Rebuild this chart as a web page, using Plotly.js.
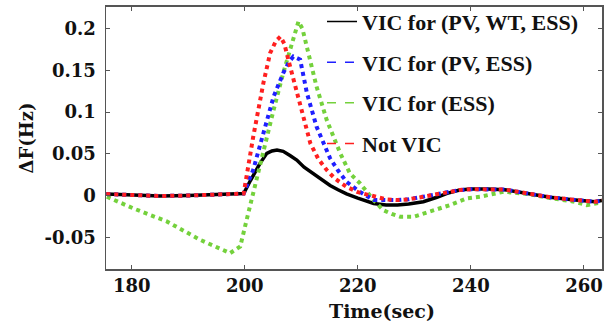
<!DOCTYPE html>
<html>
<head>
<meta charset="utf-8">
<script src="https://cdn.plot.ly/plotly-3.0.1.min.js"></script>
<style>html,body{margin:0;padding:0;background:#fff;}#chart{width:616px;height:327px;}</style>
</head>
<body>
<div id="chart"></div>
<script>
// ---- data ----
const seriesNames = ["VIC for (PV, WT, ESS)", "VIC for (PV, ESS)", "VIC for (ESS)", "Not VIC"];

const tBlack = [175.5,180,185,190,195,199.8,201,202.7,203.9,204.8,205.7,206.8,208,209.2,210.5,212.1,213.5,215.1,216.5,218,220,222.8,225,227,229,231.6,234,235.8,238,240,243,246,250,254,258,262,263.2];
const fBlack = [0.0018,0.001,-0.0005,0,0.0012,0.0024,0.018,0.0386,0.0506,0.0535,0.0546,0.0530,0.048,0.0426,0.034,0.0266,0.019,0.0120,0.007,0.0020,-0.003,-0.0094,-0.0112,-0.0114,-0.0100,-0.0074,-0.002,0.0026,0.0066,0.0080,0.0078,0.0070,0.0026,-0.0020,-0.0050,-0.0074,-0.006];

const tBlue = [175.5,180,185,190,195,199.8,201.5,203.3,205.1,206.8,207.8,208.6,209.3,209.8,211,212.7,215.1,216.5,218,220,222.8,225,226.9,229,231.6,234,235.8,238,240,243,246,250,254,258,262,263.2];
const fBlue = [0.0018,0.001,-0.0005,0,0.0012,0.0024,0.031,0.0747,0.1186,0.1467,0.160,0.1666,0.165,0.163,0.1227,0.0826,0.0446,0.030,0.0166,0.006,-0.0054,-0.0056,-0.0054,-0.0045,-0.0014,0.002,0.0046,0.0066,0.0076,0.0078,0.0072,0.0026,-0.0020,-0.0050,-0.0074,-0.006];

const tGreen = [175.6,180.3,186.2,192.1,197.4,199.2,200.3,201.5,203.3,205.1,206.8,208.3,209.5,210.2,211,212.7,214.5,216.9,218.6,220.4,222.8,224.5,226,227.5,229.9,232.8,236.3,239.3,241.6,245.8,250,254,258,260.5,263.2];
const fGreen = [-0.0014,-0.0154,-0.031,-0.053,-0.069,-0.061,-0.030,0.004,0.0546,0.1026,0.1467,0.1827,0.2086,0.200,0.1786,0.1306,0.0906,0.0506,0.0266,0.0146,-0.0054,-0.0174,-0.022,-0.0254,-0.0254,-0.0194,-0.0114,-0.0034,-0.0014,0.0046,0.0020,-0.0030,-0.0070,-0.0114,-0.008];

const tRed = [175.5,180,185,190,195,199.8,201.5,203.3,204.5,205.5,206.3,207,207.7,209.2,210.5,211.6,213,214.5,216,218,220,222.8,225,226.9,229,231.6,234,235.8,238,240,243,246,250,254,258,262,263.2];
const fRed = [0.0018,0.001,-0.0005,0,0.0012,0.0024,0.0706,0.135,0.171,0.185,0.1906,0.182,0.163,0.1227,0.090,0.0627,0.044,0.0306,0.020,0.0106,0.004,-0.0014,-0.0045,-0.0054,-0.0045,-0.0014,0.002,0.0046,0.0066,0.0076,0.0078,0.0072,0.0026,-0.0020,-0.0050,-0.0074,-0.006];

const xTickVals = [180,200,220,240,260];
const xTickText = ["180","200","220","240","260"];
const yTickVals = [-0.05,0,0.05,0.1,0.15,0.2];
const yTickText = ["-0.05","0","0.05","0.1","0.15","0.2"];

// ---- styling ----
const cBlack = "#000000", cBlue = "#1f1fff", cGreen = "#74d13c", cRed = "#ff1f1f";
const serifWide = "'DejaVu Serif', 'Liberation Serif', serif";
const serifTimes = "'Liberation Serif', 'Times New Roman', serif";
const tickFont = {family: serifWide, size: 18, weight: "bold", color: "#111"};
const legFont = {family: serifTimes, size: 22, weight: "bold", color: "#111"};

const traces = [
  {x: tBlack, y: fBlack, mode: "lines", line: {color: cBlack, width: 3.5}, showlegend: false, hoverinfo: "skip"},
  {x: tGreen, y: fGreen, mode: "lines", line: {color: cGreen, width: 4, dash: "dot"}, showlegend: false, hoverinfo: "skip"},
  {x: tBlue, y: fBlue, mode: "lines", line: {color: cBlue, width: 4, dash: "dot"}, showlegend: false, hoverinfo: "skip"},
  {x: tRed, y: fRed, mode: "lines", line: {color: cRed, width: 4, dash: "dot"}, showlegend: false, hoverinfo: "skip"},
  // legend entries (thin sample lines as in the reference)
  {x: [null], y: [null], mode: "lines", name: seriesNames[0], legendgroup: "a", line: {color: cBlack, width: 1.5}},
  {x: [null], y: [null], mode: "lines", name: seriesNames[1], legendgroup: "b", line: {color: cBlue, width: 1.5, dash: "dash"}},
  {x: [null], y: [null], mode: "lines", name: seriesNames[2], legendgroup: "c", line: {color: cGreen, width: 1.5, dash: "dash"}},
  {x: [null], y: [null], mode: "lines", name: seriesNames[3], legendgroup: "d", line: {color: cRed, width: 1.5, dash: "dash"}}
];

const axisCommon = {
  showgrid: false, zeroline: false, showline: true, linecolor: "#555", linewidth: 1.5,
  mirror: "ticks", ticks: "inside", ticklen: 4, tickwidth: 1, tickcolor: "#555",
  tickfont: tickFont, tickmode: "array"
};

const layout = {
  width: 616, height: 327,
  margin: {l: 106, r: 14, t: 0, b: 58},
  paper_bgcolor: "#fff", plot_bgcolor: "#fff",
  xaxis: Object.assign({}, axisCommon, {range: [175.45, 263.2], tickvals: xTickVals, ticktext: xTickText, ticklabelstandoff: 0}),
  yaxis: Object.assign({}, axisCommon, {range: [-0.088, 0.226], domain: [0, 0.974], tickvals: yTickVals, ticktext: yTickText, ticklabelstandoff: 5,
    title: {text: "ΔF(Hz)", font: {family: serifWide, size: 18, weight: "bold", color: "#111"}, standoff: 6}}),
  legend: {x: 0.4355, y: 0.997, xanchor: "left", yanchor: "top", bgcolor: "rgba(0,0,0,0)", borderwidth: 0,
    font: legFont, tracegroupgap: 9, itemwidth: 30},
  annotations: [
    {text: "Time(sec)", xref: "paper", yref: "paper", x: 0.556, y: -0.156, xanchor: "center", yanchor: "middle",
     showarrow: false, font: {family: serifWide, size: 19, weight: "bold", color: "#111"}}
  ]
};

Plotly.newPlot("chart", traces, layout, {staticPlot: true, displayModeBar: false});
</script>
</body>
</html>
